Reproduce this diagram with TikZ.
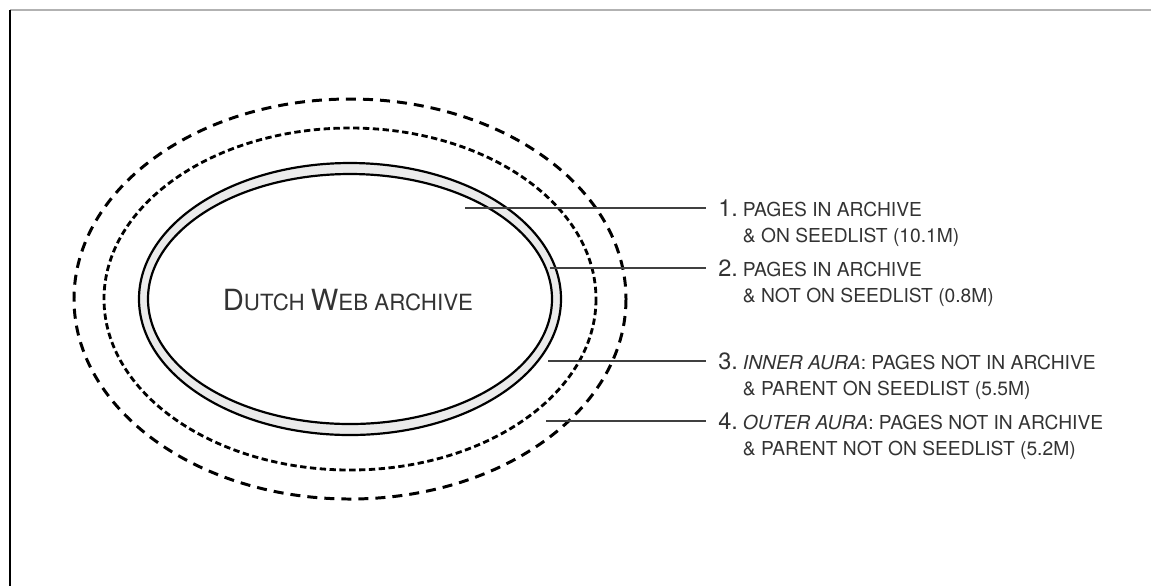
\documentclass[tikz,border=0pt]{standalone}
\usepackage{fontspec}
\setmainfont{TeX Gyre Heros}
\usetikzlibrary{calc}
\newcommand{\dwbig}[1]{{\fontsize{16.6}{18}\selectfont #1}}
\newcommand{\dwsmall}[1]{{\fontsize{12.7}{14}\selectfont #1}}
\newcommand{\itemno}[1]{\makebox[14pt][l]{\fontsize{13.4}{15}\selectfont #1.}}

\begin{document}
\begin{tikzpicture}[x=0.02cm,y=-0.02cm]
\tikzstyle{dashout}=[dash pattern=on 5.7pt off 4pt,line width=1.7pt]
\tikzstyle{dashin}=[dash pattern=on 3.6pt off 2pt,line width=1.6pt]
\tikzstyle{rim}=[line width=1.25pt]
\tikzstyle{leader}=[line width=0.85pt,black!75]
\tikzstyle{entry}=[anchor=base west,inner xsep=6.8pt,inner ysep=0pt,text=black!80,font=\fontsize{10.95}{15.3}\selectfont]
\useasboundingbox (0,0) rectangle (1151,586);
\draw[gray!60,line width=0.6pt] (10,10) -- (1151,10);
\draw[line width=0.6pt] (10,10) -- (10,586);
% rings
\coordinate (C) at (350,299);
\draw[dashout] (C) ellipse [x radius=276,y radius=200];
\draw[dashin] (C) ellipse [x radius=246,y radius=171];
\fill[black!8,even odd rule] (C) ellipse [x radius=211,y radius=136] (C) ellipse [x radius=202,y radius=125];
\draw[rim] (C) ellipse [x radius=211,y radius=136];
\draw[rim] (C) ellipse [x radius=202,y radius=125];
\node[text=black!80] (dwa) at (348,300) {\dwbig{D}\dwsmall{UTCH }\dwbig{W}\dwsmall{EB ARCHIVE}};
% labels
\coordinate (p1) at (465,208);
\coordinate (p2) at (550,268);
\coordinate (p3) at (548,361);
\coordinate (p4) at (546,421);
\node[entry] (l1) at (706,216) {\begin{tabular}[t]{@{}l@{}l@{}}\itemno{1} & PAGES IN ARCHIVE\\ & \& ON SEEDLIST (10.1M)\end{tabular}};
\node[entry] (l2) at (706,276) {\begin{tabular}[t]{@{}l@{}l@{}}\itemno{2} & PAGES IN ARCHIVE\\ & \& NOT ON SEEDLIST (0.8M)\end{tabular}};
\node[entry] (l3) at (706,369) {\begin{tabular}[t]{@{}l@{}l@{}}\itemno{3} & \textit{INNER AURA}: PAGES NOT IN ARCHIVE\\ & \& PARENT ON SEEDLIST (5.5M)\end{tabular}};
\node[entry] (l4) at (706,429) {\begin{tabular}[t]{@{}l@{}l@{}}\itemno{4} & \textit{OUTER AURA}: PAGES NOT IN ARCHIVE\\ & \& PARENT NOT ON SEEDLIST (5.2M)\end{tabular}};
\draw[leader] (p1) -- (p1 -| l1.west);
\draw[leader] (p2) -- (p2 -| l2.west);
\draw[leader] (p3) -- (p3 -| l3.west);
\draw[leader] (p4) -- (p4 -| l4.west);
\end{tikzpicture}
\end{document}
